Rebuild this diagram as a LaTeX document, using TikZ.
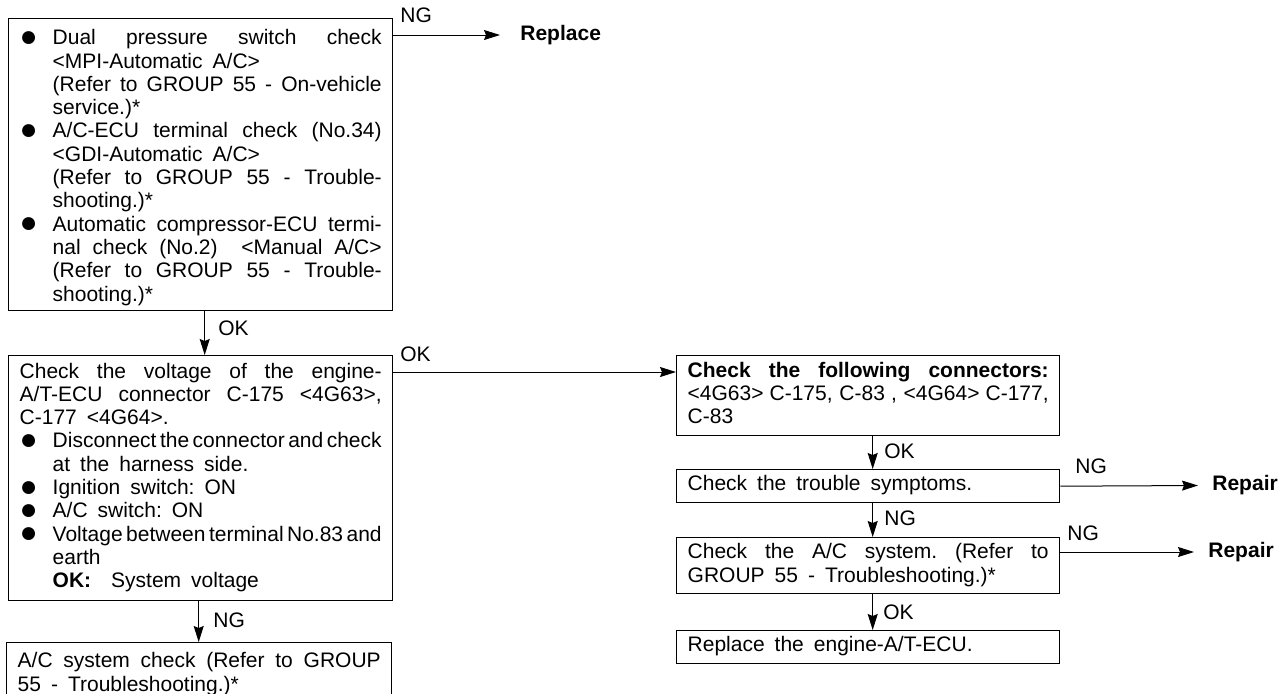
\documentclass[tikz,border=0pt]{standalone}
\usepackage{fontspec}
\setmainfont{Liberation Sans}
\usetikzlibrary{arrows.meta,positioning}
\newcommand\boxfont{\fontsize{10.5pt}{11.65pt}\selectfont\parindent=0pt
  \spaceskip=5pt plus 10pt minus 4pt\xspaceskip=5pt plus 10pt minus 4pt
  \tolerance=10000\hbadness=10000\hyphenpenalty=10000}
\newcommand\labelfont{\fontsize{10.5pt}{12pt}\selectfont}
\newlength\bulletw
\setlength\bulletw{16.5pt}
\newcommand\itm{\par\noindent\hangindent=\bulletw\hangafter=1%
  \makebox[\bulletw][l]{\strut\raisebox{-0.8pt}{\fontsize{15pt}{0pt}\selectfont ●}}}
\newcommand\eob{\strut\par}
\tikzset{
  x=0.5pt, y=-0.5pt,
  chkbox/.style={
    draw,
    line width=0.7pt,
    anchor=north west,
    inner xsep=5.5pt,
    inner ysep=0pt,
    align=justify,
    font=\boxfont
  },
  result/.style={
    anchor=west,
    inner xsep=7pt,
    inner ysep=0pt,
    font=\labelfont\bfseries
  },
  lbl/.style={
    anchor=west,
    inner sep=0pt,
    font=\labelfont
  },
  arr/.style={
    -{Stealth[length=8pt,width=5pt,inset=1pt]},
    line width=0.5pt
  }
}
\begin{document}
\begin{tikzpicture}
    \clip (0,0) rectangle (1281,693);

    % left column
    \node[chkbox, text width=181pt, minimum height=146pt] (chkswitch) at (8,18) {%
      \itm Dual pressure switch check\linebreak <MPI-Automatic A/C>\\
      (Refer to GROUP 55 - On-vehicle\linebreak service.)*
      \itm A/C-ECU terminal check (No.34)\linebreak <GDI-Automatic A/C>\\
      (Refer to GROUP 55 - Trouble-\linebreak shooting.)*
      \itm Automatic compressor-ECU termi-\linebreak nal check (No.2)\ \ <Manual A/C>\linebreak
      (Refer to GROUP 55 - Trouble-\linebreak shooting.)*\eob};
    \node[chkbox, text width=181pt, minimum height=122.5pt] (chkvolt) at (8,355) {%
      \strut Check the voltage of the engine-\linebreak A/T-ECU connector C-175 <4G63>,\linebreak
      C-177 <4G64>.
      \itm Disconnect the connector and check\linebreak at the harness side.
      \itm Ignition switch: ON
      \itm A/C switch: ON
      \itm Voltage between terminal No.83 and\linebreak earth\\
      \textbf{OK:}\ \ System voltage\eob};
    \node[chkbox, text width=181.5pt, minimum height=32pt] (acsys) at (6,642) {%
      \strut A/C system check (Refer to GROUP\linebreak 55 - Troubleshooting.)*\eob};

    % right column
    \node[chkbox, text width=180.5pt, minimum height=40pt] (chkconn) at (676,355) {%
      \strut\textbf{Check the following connectors:}\linebreak
      <4G63> C-175, C-83 , <4G64> C-177,\linebreak C-83\eob};
    \node[chkbox, text width=180.5pt, minimum height=16.5pt] (symptoms) at (676,469) {%
      \strut Check the trouble symptoms.\eob};
    \node[chkbox, text width=180.5pt, minimum height=28pt] (acsystem) at (676,537) {%
      \strut Check the A/C system. (Refer to\linebreak GROUP 55 - Troubleshooting.)*\eob};
    \node[chkbox, text width=180.5pt, minimum height=16.5pt] (replecu) at (676,630) {%
      \strut Replace the engine-A/T-ECU.\eob};

    % results
    \node[result] (replace) at (506,35) {Replace};
    \node[result] (repairA) at (1198,485.5) {Repair};
    \node[result] (repairB) at (1194,552) {Repair};

    % connectors
    \draw[arr, shorten >=3pt] ([yshift=-8.5pt]chkswitch.north east) -- (replace.west);
    \draw[arr] ([xshift=2pt]chkswitch.south) -- ([xshift=2pt]chkswitch.south |- chkvolt.north);
    \draw[arr] ([yshift=-8.5pt]chkvolt.north east) -- ([yshift=-8.5pt]chkconn.north west);
    \draw[arr] ([xshift=-1pt]chkvolt.south) -- ([xshift=-1pt]chkvolt.south |- acsys.north);
    \draw[arr] ([xshift=2.25pt]chkconn.south) -- ([xshift=2.25pt]chkconn.south |- symptoms.north);
    \draw[arr] (symptoms.east) -- (repairA.west);
    \draw[arr] ([xshift=2.25pt]symptoms.south) -- ([xshift=2.25pt]symptoms.south |- acsystem.north);
    \draw[arr] ([yshift=-7.5pt]acsystem.north east) -- (repairB.west);
    \draw[arr] ([xshift=2.25pt]acsystem.south) -- ([xshift=2.25pt]acsystem.south |- replecu.north);

    % labels
    \node[lbl] (ngA) at (400,15.5) {NG};
    \node[lbl] (okA) at (218,328.5) {OK};
    \node[lbl] (okB) at (400,354) {OK};
    \node[lbl] (ngB) at (213,620) {NG};
    \node[lbl] (okC) at (884,451) {OK};
    \node[lbl] (ngC) at (884,518.5) {NG};
    \node[lbl] (okD) at (883,612.5) {OK};
    \node[lbl] (ngD) at (1075,466.5) {NG};
    \node[lbl] (ngE) at (1067,533.5) {NG};
\end{tikzpicture}
\end{document}
